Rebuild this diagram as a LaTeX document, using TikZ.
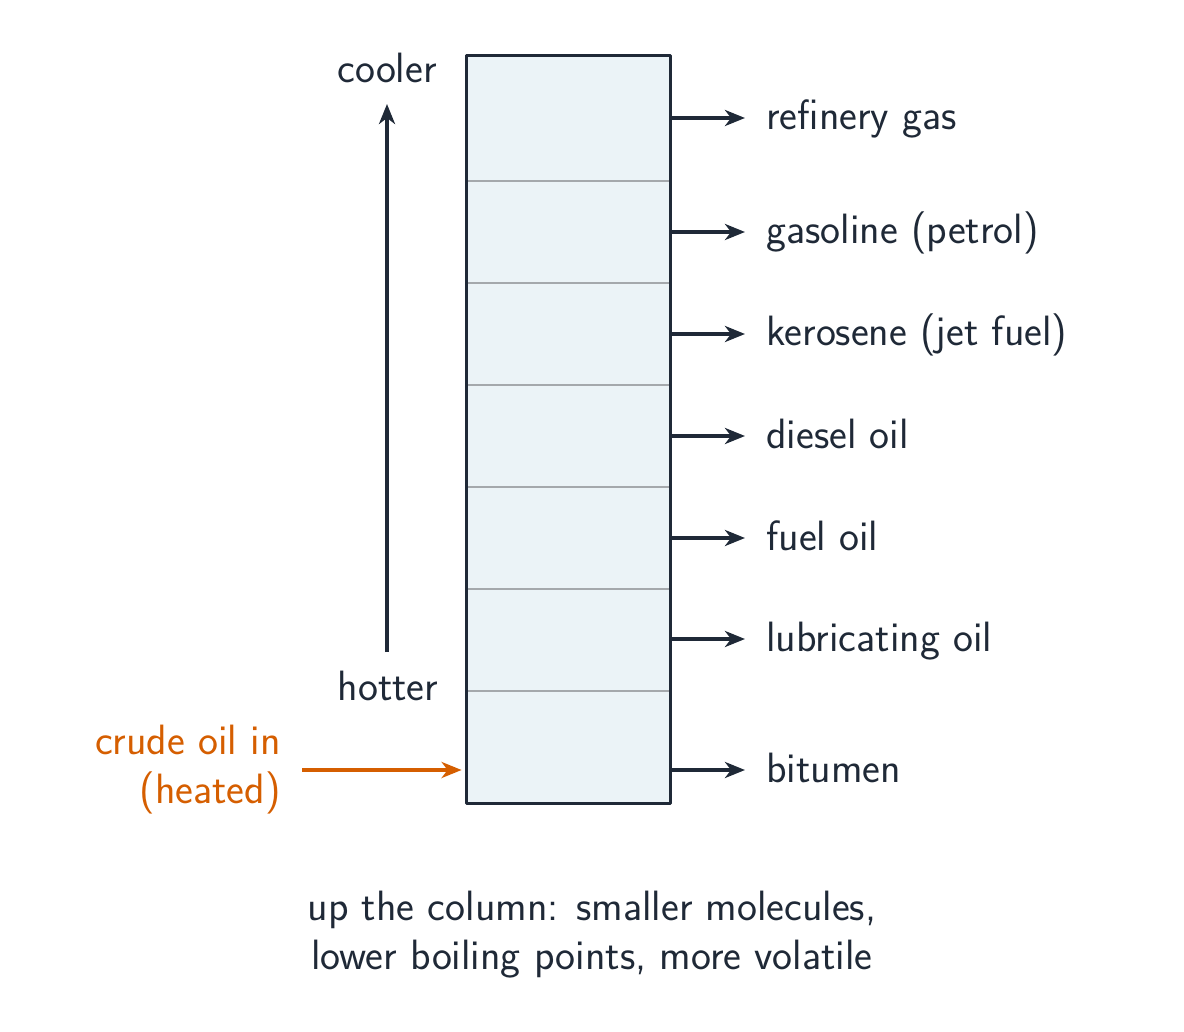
\documentclass[tikz,border=0pt]{standalone}
\usetikzlibrary{arrows.meta}
\definecolor{ink}{HTML}{1F2937}
\definecolor{colfill}{HTML}{EBF3F7}
\definecolor{sepgray}{HTML}{A4A8AC}
\definecolor{crude}{HTML}{D55E00}
\begin{document}
\begin{tikzpicture}[x=0.5pt,y=-0.5pt,
  every node/.style={font=\sffamily\fontsize{21.2}{24.5}\selectfont, text=ink, inner sep=0pt},
  tip/.style={-{Stealth[length=10pt,width=8pt,inset=3pt]}},
  arr/.style={draw=ink, line width=1.8pt, tip},
  sepline/.style={draw=sepgray, line width=1pt},
  lab/.style={anchor=base west}]
\useasboundingbox (0,0) rectangle (1184,1032);
% column
\node[fill=colfill, minimum width=101.5pt, minimum height=373.5pt] (col) at (568.5,429.5) {};
\foreach \yy in {181,283,385,487,589,691}
  \draw[sepline] (col.west |- 0,\yy) -- (col.east |- 0,\yy);
\draw[ink, line width=1.8pt, line join=round] (col.south west) rectangle (col.north east);
% outputs
\node[lab] (l1) at (766,130) {refinery gas};
\node[lab] (l2) at (766,244) {gasoline (petrol)};
\node[lab] (l3) at (766,346) {kerosene (jet fuel)};
\node[lab] (l4) at (766,448) {diesel oil};
\node[lab] (l5) at (766,550) {fuel oil};
\node[lab] (l6) at (766,651) {lubricating oil};
\node[lab] (l7) at (766,782) {bitumen};
\foreach \n in {l1,l2,l3,l4,l5,l6,l7}{
  \path ([shift={(-21,-12)}]\n.base west) coordinate (e\n);
  \draw[arr] (col.east |- e\n) -- (e\n);
}
% temperature arrow
\node[anchor=base] (cool) at (387,83) {cooler};
\node[anchor=base] (hot) at (388,700) {hotter};
\coordinate (abot) at (387,652);
\coordinate (atop) at (387,104);
\draw[arr] (abot) -- (atop);
% crude oil input
\node[anchor=east, align=right, text=crude] (in) at (281,770) {crude oil in\\(heated)};
\coordinate (inlet) at (col.west |- 0,770);
\draw[draw=crude, line width=1.8pt, tip, shorten >=2.5pt] ([xshift=10.5pt]in.east |- inlet) -- (inlet);
% caption
\node[align=center] (cap) at (592,935) {up the column: smaller molecules,\\lower boiling points, more volatile};
\end{tikzpicture}
\end{document}
